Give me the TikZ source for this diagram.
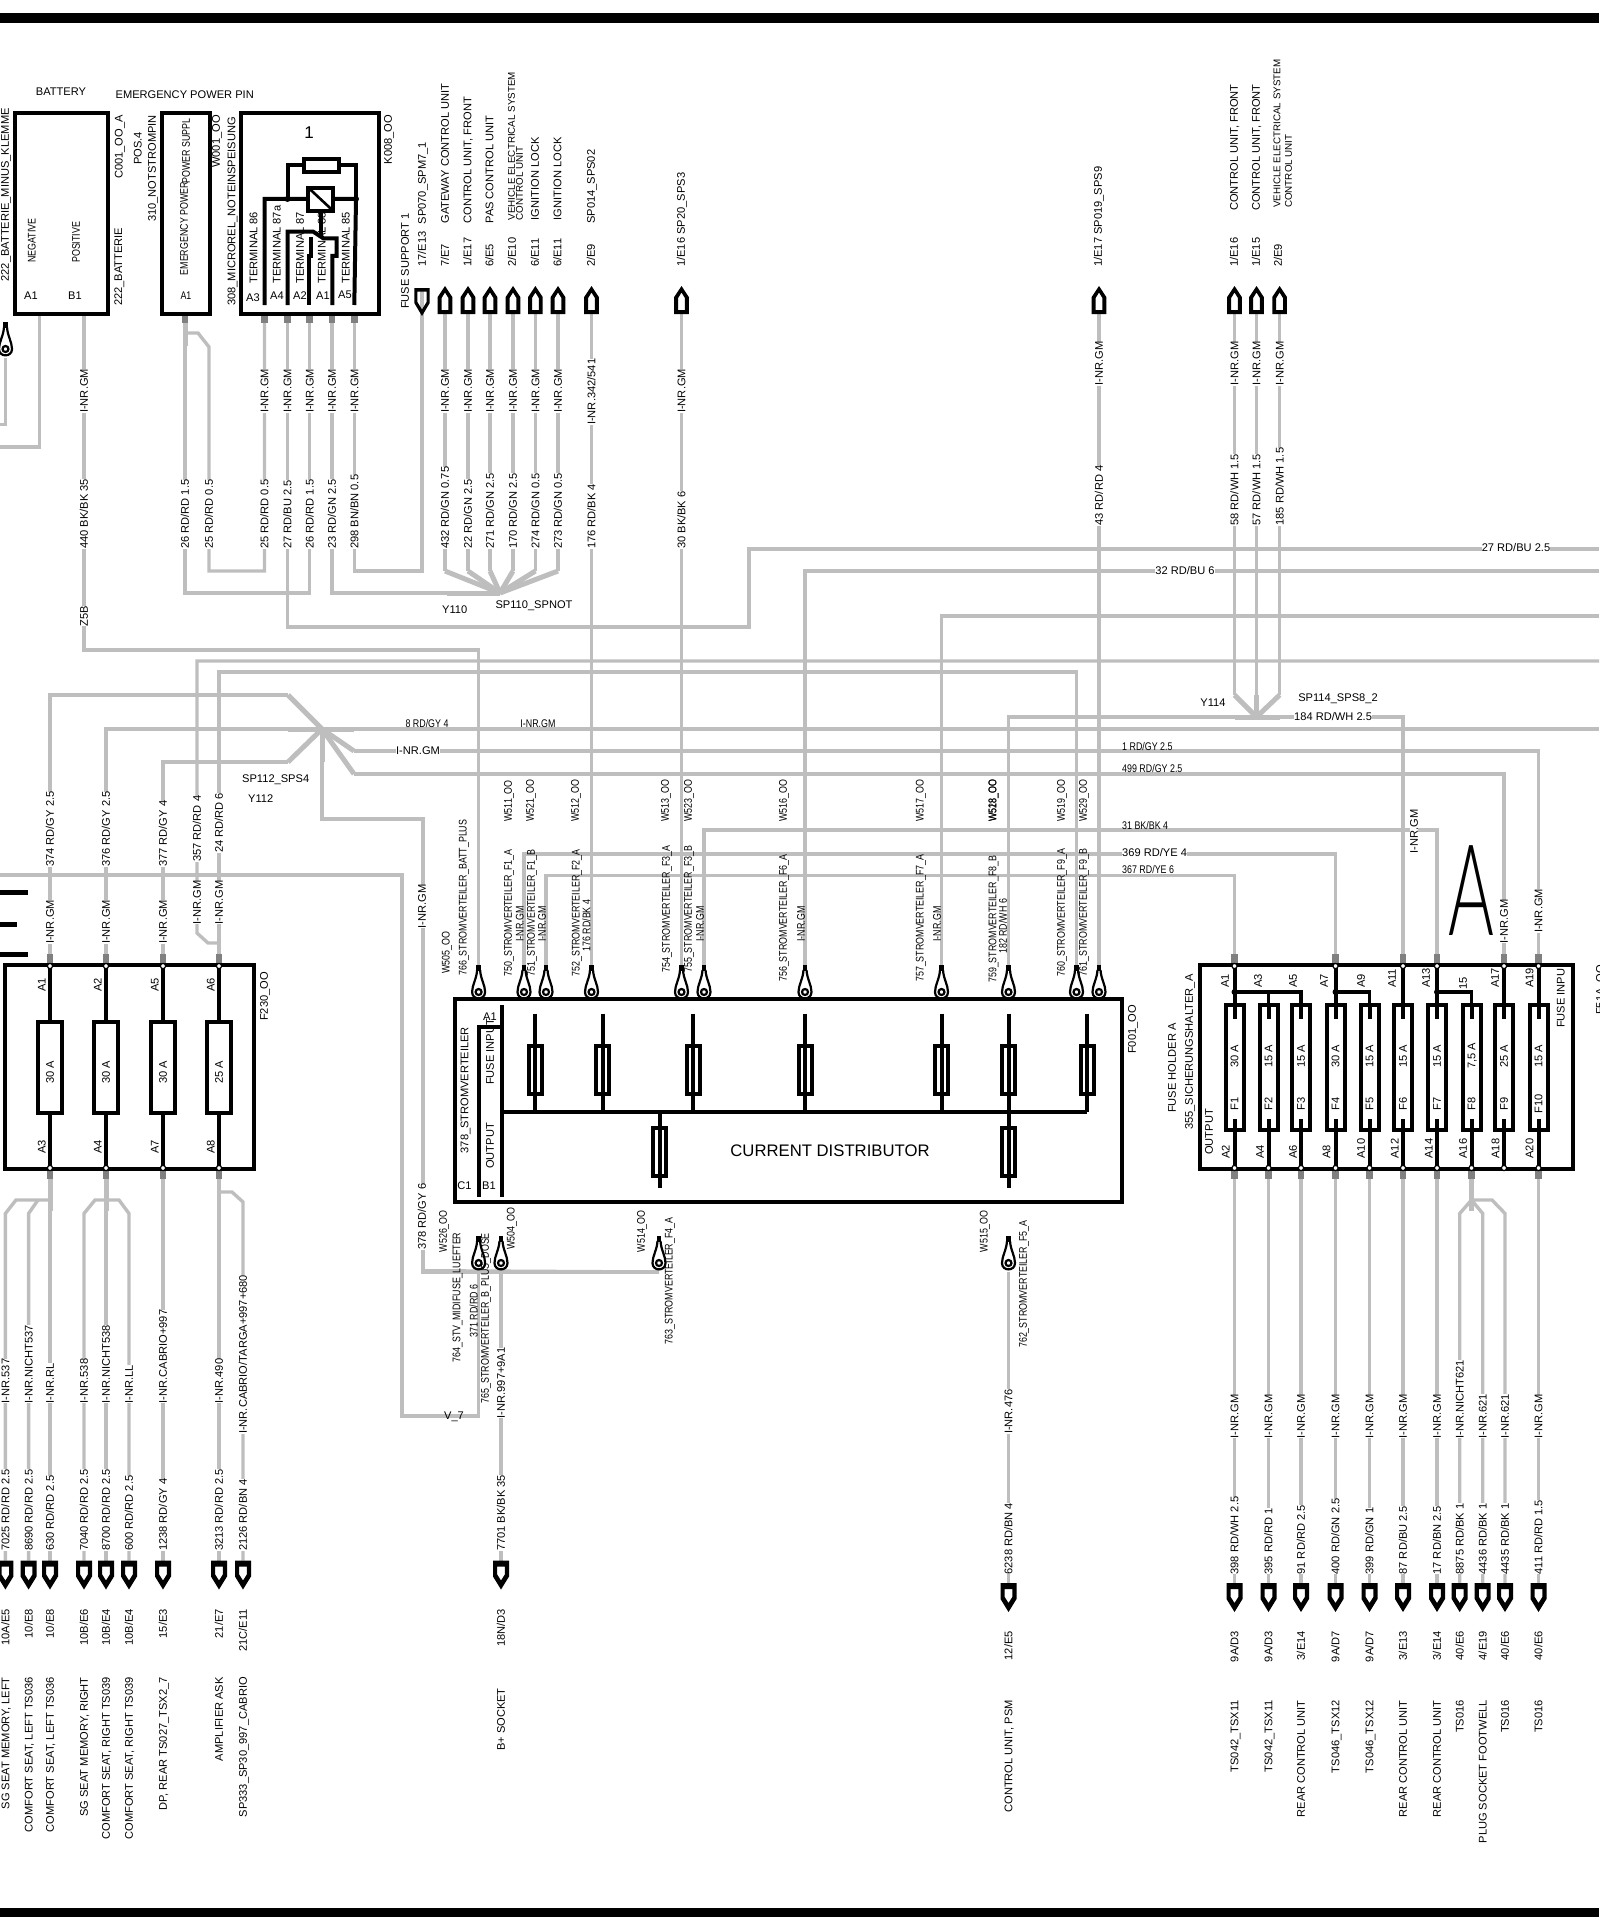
\documentclass[tikz,border=0pt]{standalone}
\usepackage{fontspec}
\setmainfont{Liberation Sans}
\newfontfamily\narrowfont[FakeStretch=0.8]{Liberation Sans}
\newfontfamily\slimfont[FakeStretch=0.55]{Lato Light}
\newcommand\stdtxt{\fontsize{11.1}{12}\selectfont}
\newcommand\smalltxt{\narrowfont\fontsize{11.1}{12}\selectfont}
\newcommand\thintxt{\fontsize{9.8}{10}\selectfont}
\catcode`\_=12
\tikzset{
  wire/.style={draw=wiregrey,line width=3.4pt,line join=miter},
  wirebold/.style={draw=wiregrey,line width=5pt},
  pinstub/.style={draw=pingrey,line width=6.6pt},
  frame/.style={draw=black,line width=4pt},
  blk/.style={draw=black,line width=4pt},
  vt/.style={rotate=90,anchor=west,inner sep=0pt,text height=7.9pt,text depth=0pt,font=\stdtxt},
  vte/.style={vt,anchor=east},
  vw/.style={vt,fill=white},
  vs/.style={vt,font=\smalltxt},
  ht/.style={inner sep=0pt,text height=7.9pt,text depth=0pt,font=\stdtxt},
  hs/.style={ht,font=\smalltxt},
  pics/conup/.style={code={\fill[even odd rule] (-7.3,0) -- (7.3,0) -- (7.3,-17) -- (0,-28) -- (-7.3,-17) -- cycle
    (-3.4,-4) -- (3.4,-4) -- (3.4,-16) -- (0,-21.5) -- (-3.4,-16) -- cycle;}},
  pics/condown/.style={code={\fill[even odd rule] (-8,0) -- (8,0) -- (8,16) -- (0,29) -- (-8,16) -- cycle
    (-3.8,6) -- (3.8,6) -- (3.8,14) -- (0,20) -- (-3.8,14) -- cycle;}},
  pics/consupport/.style={code={\fill[even odd rule] (-7.7,0) -- (7.7,0) -- (7.7,15) -- (0,28) -- (-7.7,15) -- cycle
    (-4.6,3.5) -- (4.6,3.5) -- (4.6,14) -- (0,21.5) -- (-4.6,14) -- cycle;}},
  pics/eyelet/.style={code={
    \fill (-2.2,0) rectangle (2.2,6);
    \draw[line width=2.2pt] (-1.5,5) .. controls (-2,14) and (-6.5,20) .. (-6.5,27)
      .. controls (-6.5,35.5) and (6.5,35.5) .. (6.5,27) .. controls (6.5,20) and (2,14) .. (1.5,5);
    \draw[line width=2.2pt,fill=white] (0,27) circle[radius=3];}},
}
\definecolor{wiregrey}{HTML}{BEBEBE}
\definecolor{pingrey}{HTML}{808080}
\begin{document}
\begin{tikzpicture}[x=1pt,y=-1pt]
  \useasboundingbox (0,0) rectangle (1599,1926);
  \fill (0,13.5) rectangle (1599,23);
  \fill (0,1907.7) rectangle (1599,1917);

  % pins, connectors, eyelets
  \foreach \n/\x in {ka3/264.5,ka4/287.5,ka2/309.6,ka1/332,ka5/354.3,wa1/185,ba1/39.5,bb1/84}
    \coordinate (\n) at (\x,313);
  \foreach \n/\x in {tg1/445,tg2/468,tg3/490,tg4/513,tg5/535.4,tg6/558,t176/591.5,t30/681.5,t43/1099,t58/1234.5,t57/1256.5,t185/1279.6}
    \coordinate (\n) at (\x,314);
  \coordinate (tc17) at (422,288);
  \foreach \n/\x in {e505/478.6,e511/524,e521/546,e512/591.5,e513/681.5,e523/704,e516/805,e517/941.5,e518/1008.5,e519/1076.5,e529/1099}
    \coordinate (\n) at (\x,965);
  \foreach \n/\x in {e526/478.6,e504/501,e514/659,e515/1008.5}{
    \coordinate (\n) at (\x,1236);
    \coordinate (\n b) at (\x,1272);
  }
  \coordinate (e0) at (5.5,322);
  \coordinate (e0b) at (5.5,358);
  \foreach \n/\x in {fa1/50,fa2/106,fa5/163,fa6/219}
    \coordinate (\n) at (\x,963);
  \foreach \n/\x in {fb3/50,fb4/106,fb7/163,fb8/219}
    \coordinate (\n) at (\x,1170);
  \foreach \n/\x in {ha1/1234.5,ha7/1335.5,ha11/1403,ha13/1437,ha17/1504,ha19/1538.5}
    \coordinate (\n) at (\x,963);
  \foreach \n/\x in {hb2/1234.5,hb4/1268.5,hb6/1301,hb8/1335.5,hb10/1369.5,hb12/1403,hb14/1437,hb16/1471.5,hb20/1538.5}
    \coordinate (\n) at (\x,1170);
  \foreach \n/\x in {c1/5.4,c2/28.6,c3/50,c4/84,c5/106,c6/129,c7/163,c8/219,c9/243,c10/501}
    \coordinate (\n) at (\x,1560.5);
  \foreach \n/\x in {r1/1234.5,r2/1268.5,r3/1301,r4/1335.5,r5/1369.5,r6/1403,r7/1437,r8/1459.7,r9/1482.7,r10/1505,r11/1538.5,r12/1008.5}
    \coordinate (\n) at (\x,1583);
  \coordinate (spl110) at (500,593);
  \coordinate (spl112) at (322,729);
  \coordinate (spl114) at (1256.5,717);
  \coordinate (lft1) at (0,447);
  \coordinate (lft2) at (0,424.5);
  \coordinate (lft3) at (0,875);
  \foreach \n/\y in {rt27/549,rt32/571,rt517/616,rt661/661,rt729/729}
    \coordinate (\n) at (1599,\y);

  % wires
  \draw[wire] (ba1) |- (lft1);
  \draw[wire] (e0b) |- (lft2);
  \draw[wire] (bb1) |- (478.6,650) -- (e505);
  \draw[wire] (wa1) |- (309.6,593) -- (ka2);
  \draw[wire] (185,333) -- (198,333) -- (209,347) |- (264.5,571) -- (ka3);
  \draw[wirebold] (wa1) -- (185,346);
  \draw[wire] (ka1) |- (447,593);
  \draw[wirebold] (447,593) -- (spl110);
  \draw[wire] (ka5) |- (422,571) -- (tc17);
  \draw[wire] (ka4) |- (749,627) |- (rt27);
  \foreach \c in {tg1,tg2,tg3,tg4,tg5,tg6}{
    \draw[wire] (\c) -- (\c |- 0,571);
    \draw[wirebold] (\c |- 0,571) -- (spl110);
  }
  \foreach \from/\to in {t176/e512,t30/e513,t43/e529}
    \draw[wire] (\from) -- (\to);
  \draw[wire] (e516) |- (rt32);
  \draw[wire] (e517) |- (rt517);
  \draw[wire] (fa6) |- (e519 |- 0,672) -- (e519);
  \draw[wire] (219,943) -- (208,943) -- (197,933) |- (rt661);
  \draw[wire] (fa1) |- (288,695);
  \draw[wirebold] (288,695) -- (spl112);
  \draw[wire] (fa2) |- (288,729);
  \draw[wirebold] (288,729) -- (354,729);
  \draw[wire] (354,729) -- (rt729);
  \draw[wire] (fa5) |- (288,762);
  \draw[wirebold] (288,762) -- (spl112);
  \draw[wirebold] (spl112) -- (322,762);
  \draw[wire] (322,762) |- (423,819) |- (e514b);
  \draw[wirebold] (spl112) -- (354,751);
  \draw[wire] (354,751) -| (ha19);
  \draw[wirebold] (spl112) -- (354,774);
  \draw[wire] (354,774) -| (ha17);
  \draw[wire] (t58) -- (1234.5,695);
  \draw[wire] (t185) -- (1279.6,695);
  \draw[wire] (t57) -- (1256.5,695);
  \draw[wirebold] (1234.5,695) -- (spl114);
  \draw[wirebold] (1279.6,695) -- (spl114);
  \draw[wirebold] (1256.5,695) -- (spl114);
  \draw[wire] (e518) |- (1234.5,717);
  \draw[wirebold] (1234.5,717) -- (1279.6,717);
  \draw[wire] (1279.6,717) -| (ha11);
  \draw[wire] (e523) |- (1437,830) -- (ha13);
  \draw[wire] (e511) |- (1335.5,854) -- (ha7);
  \draw[wire] (e521) |- (1234.5,875.5) -- (ha1);
  \draw[wire] (e526b) |- (402,1416) |- (lft3);
  \draw[wire] (e504b) -- (c10);
  \draw[wire] (e515b) -- (r12);
  \draw[wire] (423,1270.7) -- (e514b);
  \draw[wirebold] (fb3) -- (50,1211);
  \draw[wirebold] (fb4) -- (106,1211);
  \draw[wirebold] (hb16) -- (1471.5,1211);
  \foreach \from/\to in {fb3/c3,fb4/c5,fb7/c7,fb8/c8,hb2/r1,hb4/r2,hb6/r3,hb8/r4,hb10/r5,hb12/r6,hb14/r7,hb20/r11}
    \draw[wire] (\from) -- (\to);
  \draw[wire] (c1) -- (5.4,1213.5) -- (16,1200) -- (50,1200);
  \draw[wire] (c2) -- (28.6,1213.5) -- (38,1200);
  \draw[wire] (c4) -- (84,1213.5) -- (95,1200) -- (119,1200) -- (129,1213.5) -- (c6);
  \draw[wire] (219,1192) -- (232,1192) -- (243,1202) -- (c9);
  \draw[wire] (r8) -- (1459.7,1213.5) -- (1471.5,1200) -- (1482.7,1213.5) -- (r9);
  \draw[wire] (1471.5,1200) -- (1492,1200) -- (1505,1213.5) -- (r10);

  % pin stubs
  \foreach \p in {fa1,fa2,fa5,fa6,ha1,ha7,ha11,ha13,ha17,ha19}
    \draw[pinstub] (\p) -- ++(0,-9);
  \foreach \p in {fb3,fb4,fb7,fb8,hb2,hb4,hb6,hb8,hb10,hb12,hb14,hb16,hb20}
    \draw[pinstub] (\p) -- ++(0,9);
  \foreach \p in {ka3,ka4,ka2,ka1,ka5,wa1}
    \draw[pinstub] (\p) -- ++(0,10);

  % connectors
  \foreach \c in {tg1,tg2,tg3,tg4,tg5,tg6,t176,t30,t43,t58,t57,t185}
    \pic at (\c) {conup};
  \pic at (tc17) {consupport};
  \foreach \c in {c1,c2,c3,c4,c5,c6,c7,c8,c9,c10,r1,r2,r3,r4,r5,r6,r7,r8,r9,r10,r11,r12}
    \pic at (\c) {condown};
  \foreach \c in {e505,e511,e521,e512,e513,e523,e516,e517,e518,e519,e529,e526,e504,e514,e515,e0}
    \pic at (\c) {eyelet};

  % battery, emergency pin, relay
  \draw[frame] (15,113.5) rectangle (107.5,313.5);
  \draw[frame] (162,113.5) rectangle (209.5,313.5);
  \node[vs] (wa1t) at (184,275.5) {EMERGENCY POWER};
  \node[vs] (wa1u) at (186,184) {POWER SUPPL};
  \draw[frame] (241,113.5) rectangle (379,313.5);
  \foreach \x/\t [count=\i] in {253.5/TERMINAL 86,276.7/TERMINAL 87a,300/TERMINAL 87,321.7/TERMINAL 88,345.7/TERMINAL 85}
    \node[vt] (term\i) at (\x,283.7) {\t};
  \draw[blk] (264.5,305) |- (356,199) -- (354.3,305);
  \draw[blk] (287.5,199) |- (356,165) -- (356,199);
  \draw[blk,fill=white] (303.5,159.3) rectangle (339,171.7);
  \draw[blk,fill=white] (308.3,187.7) rectangle (333.3,211);
  \draw[line width=2.6pt] (308.3,187.7) -- (333.3,211);
  \draw[blk] (320.7,211) -- (320.7,238);
  \draw[blk] (287.5,305) |- (313.3,231.7) -- (323.3,238.3) -- (336.7,238.3) -- (336.7,256) -- (332.3,256) -- (332.3,305);
  \draw[blk] (311,237) -- (311,256) -- (309.3,256) -- (309.3,305);
  \fill (287.5,199) circle[radius=3];
  \fill (356,199) circle[radius=3];

  % fuse carrier F230
  \draw[frame] (5,965) rectangle (254,1168.5);
  \foreach \x/\a/\b/\t [count=\i] in {50/A1/A3/30 A,106/A2/A4/30 A,163/A5/A7/30 A,219/A6/A8/25 A}{
    \draw[blk] (\x,965) -- (\x,1168.5);
    \draw[blk,fill=white] (\x-12,1022) rectangle (\x+12,1113);
    \node[vt,anchor=center] (ft\i) at (\x,1072) {\t};
    \node[vt] (fp\i) at (\x-8.4,992) {\a};
    \node[vt] (fq\i) at (\x-8.4,1154) {\b};
    \draw[line width=1.2pt,fill=white] (\x,966) circle[radius=2.6];
    \draw[line width=1.2pt,fill=white] (\x,1168) circle[radius=2.6];
  }
  \fill (0,890) rectangle (28,895);
  \fill (0,921.5) rectangle (17,926.5);
  \fill (0,951.5) rectangle (28,956.5);

  % current distributor
  \draw[frame] (455,999) rectangle (1121.5,1202);
  \draw[blk] (501.5,1005) -- (501.5,1197);
  \draw[blk] (478.5,1197) |- (501.5,1027);
  \draw[blk] (501.5,1111.5) -- (1087,1111.5);
  \foreach \x in {535,602.5,693,805,941.5,1008.5,1087}{
    \draw[blk,fill=white] (\x-6.5,1045.7) rectangle (\x+6.5,1094);
    \draw[blk] (\x,1013.5) -- (\x,1111.5);
  }
  \foreach \x in {659.5,1008.5}{
    \draw[blk,fill=white] (\x-6.5,1127.5) rectangle (\x+6.5,1176);
    \draw[blk] (\x,1111.5) -- (\x,1188);
  }
  \node[ht,font=\fontsize{16.7}{18}\selectfont,text height=12pt] (dist) at (830,1150) {CURRENT DISTRIBUTOR};

  % fuse holder A
  \draw[frame] (1199.7,964.5) rectangle (1573,1168.5);
  \foreach \x/\t/\f [count=\i] in {1234.5/30 A/F1,1268.5/15 A/F2,1301/15 A/F3,1335.5/30 A/F4,1369.5/15 A/F5,1403/15 A/F6,1437/15 A/F7,1471.5/{7,5 A}/F8,1504/25 A/F9,1538.5/15 A/F10}{
    \draw[blk,fill=white] (\x-9,1005) rectangle (\x+9,1130);
    \draw[blk] (\x,1005) -- (\x,1018.6);
    \draw[blk] (\x,1119) -- (\x,1168);
    \node[vt,anchor=center] (hv\i) at (\x,1056) {\t};
    \node[vt,anchor=center] (hf\i) at (\x,1104) {\f};
    \draw[line width=1.2pt,fill=white] (\x,1168) circle[radius=2.6];
  }
  \foreach \x/\a [count=\i] in {1225/A1,1258/A3,1293/A5,1324/A7,1361/A9,1392/A11,1426/A13,1495/A17,1529.5/A19}
    \node[vt] (ht\i) at (\x,988) {\a};
  \node[vt] (ht15) at (1463,990) {15};
  \foreach \x/\a [count=\i] in {1225.7/A2,1260/A4,1293/A6,1326.5/A8,1361/A10,1394.6/A12,1428.6/A14,1463/A16,1495.5/A18,1529.5/A20}
    \node[vt] (hu\i) at (\x,1158.6) {\a};
  \foreach \x in {1234.5,1335.5,1403,1437,1504,1538.5}{
    \draw[blk] (\x,966) -- (\x,1005);
    \draw[line width=1.2pt,fill=white] (\x,966) circle[radius=2.6];
  }
  \foreach \a/\b in {1234.5/1301,1335.5/1369.5,1437/1471.5}{
    \draw[line width=3.4pt] (\a,992) -| (\b,1018);
    \fill (\a,992) circle[radius=3];
  }
  \draw[line width=3.4pt] (1268.5,992) -- (1268.5,1018);
  \node[vt] (hout) at (1209,1155) {OUTPUT};
  \node[vt] (hin) at (1560.7,1028) {FUSE INPU};
  \node[vt] (hsh) at (1189,1130) {355_SICHERUNGSHALTER_A};
  \node[vt] (hfh) at (1172,1113) {FUSE HOLDER A};
  \node[vt] (hid) at (1600,1015) {F51A_OO};
  \node[inner sep=0pt,anchor=base,font=\slimfont\fontsize{127}{127}\selectfont] (bigA) at (1471,935) {A};

  % texts at the top
  \node[vt] (lk1) at (5,281.6) {222_BATTERIE_MINUS_KLEMME};
  \node[ht] (lk2) at (61,92) {BATTERY};
  \node[ht] (lk3) at (184.7,95) {EMERGENCY POWER PIN};
  \node[vt] (lk4) at (118.6,179) {C001_OO_A};
  \node[vt] (lk5) at (118.2,306) {222_BATTERIE};
  \node[vt] (lk6) at (137.6,165) {POS.4};
  \node[vt] (lk7) at (152,222) {310_NOTSTROMPIN};
  \node[vt] (lk8) at (216,168) {W001_OO};
  \node[vt] (lk9) at (231.3,306) {308_MICROREL_NOTEINSPEISUNG};
  \node[vt] (lk10) at (388,164.5) {K008_OO};
  \node[vt] (lk11) at (405,309) {FUSE SUPPORT 1};
  \node[vs] (lk12) at (31.6,263) {NEGATIVE};
  \node[vs] (lk13) at (76,263) {POSITIVE};
  \node[ht] (lk14) at (31,295.5) {A1};
  \node[ht] (lk15) at (75,295.5) {B1};
  \node[hs] (lk16) at (186,295.5) {A1};
  \node[ht,font=\fontsize{17}{18}\selectfont] (lk17) at (309,134.7) {1};
  \foreach \x/\y/\t [count=\i] in {253/298/A3,277/296/A4,300/296/A2,323/296/A1,345/295/A5}
    \node[ht] (ka\i t) at (\x,\y) {\t};
  \foreach \x/\t [count=\i] in {422/{17/E13},445/{7/E7},467.5/{1/E17},489.5/{6/E5},512/{2/E10},535/{6/E11},557.5/{6/E11},591/{2/E9},681/{1/E16},1098/{1/E17},1234/{1/E16},1256/{1/E15},1278/{2/E9}}
    \node[vt] (ref\i) at (\x,267) {\t};
  \foreach \x/\y/\t [count=\i] in {422/224.5/SP070_SPM7_1,445/223.7/GATEWAY CONTROL UNIT,467.5/223.7/{CONTROL UNIT, FRONT},489.5/223.7/PAS CONTROL UNIT,535/220.4/IGNITION LOCK,557.5/220.4/IGNITION LOCK,591/224/SP014_SPS02,681/234.7/SP20_SPS3,1098/234.7/SP019_SPS9,1234/211/{CONTROL UNIT, FRONT},1256/211/{CONTROL UNIT, FRONT}}
    \node[vt] (dst\i) at (\x,\y) {\t};
  \foreach \x/\y/\t [count=\i] in {511/220.4/VEHICLE ELECTRICAL SYSTEM,518.8/220.4/CONTROL UNIT,1276.4/208/VEHICLE ELECTRICAL SYSTEM,1288/208/CONTROL UNIT}
    \node[vt,font=\thintxt] (veh\i) at (\x,\y) {\t};

  % wire labels, upper part
  \foreach \x/\y [count=\i] in {84/413,264.5/413,287.5/413,309.6/413,332/413,354.3/413,445/413,468/413,490/413,513/413,535.4/413,558/413,681.5/413,1099/385.7,1234.5/385.7,1256.5/385.7,1279.6/385.7,50/944,106/944,163/944,197/924.6,219/924.6,422/928.6,1504/943.6,1538.5/933}
    \node[vw] (gm\i) at (\x,\y) {I-NR.GM};
  \node[vw] (gm342) at (591.5,425) {I-NR.342/541};
  \foreach \x/\t [count=\i] in {84/{440 BK/BK 35},185/{26 RD/RD 1.5},209/{25 RD/RD 0.5},264.5/{25 RD/RD 0.5},287.5/{27 RD/BU 2.5},309.6/{26 RD/RD 1.5},332/{23 RD/GN 2.5},354.3/{298 BN/BN 0.5},445/{432 RD/GN 0.75},468/{22 RD/GN 2.5},490/{271 RD/GN 2.5},513/{170 RD/GN 2.5},535.4/{274 RD/GN 0.5},558/{273 RD/GN 0.5},591.5/{176 RD/BK 4},681.5/{30 BK/BK 6}}
    \node[vw] (wn\i) at (\x,549) {\t};
  \foreach \x/\t [count=\i] in {1099/{43 RD/RD 4},1234.5/{58 RD/WH 1.5},1256.5/{57 RD/WH 1.5},1279.6/{185 RD/WH 1.5}}
    \node[vw] (wm\i) at (\x,525.7) {\t};
  \node[vw] (zsb) at (84,626.5) {Z5B};
  \node[ht,fill=white] (h27) at (1516,548) {27 RD/BU 2.5};
  \node[ht,fill=white] (h32) at (1185,571) {32 RD/BU 6};
  \node[ht] (y110) at (454.7,610) {Y110};
  \node[ht] (sp110) at (534,605) {SP110_SPNOT};
  \foreach \x/\y/\t [count=\i] in {50/867/{374 RD/GY 2.5},106/867/{376 RD/GY 2.5},163/867/{377 RD/GY 4},197/862/{357 RD/RD 4},219/853/{24 RD/RD 6}}
    \node[vw] (wk\i) at (\x,\y) {\t};
  \node[hs,fill=white] (h8) at (427,723.5) {8 RD/GY 4};
  \node[hs,fill=white] (h8b) at (538,723.5) {I-NR.GM};
  \node[ht,fill=white] (hgm) at (418,751) {I-NR.GM};
  \node[ht] (sp112) at (275.7,779) {SP112_SPS4};
  \node[ht] (y112) at (260.7,799) {Y112};
  \node[vt] (f230) at (264,1021) {F230_OO};
  \node[ht] (y114) at (1213,703) {Y114};
  \node[ht] (sp114) at (1338,698) {SP114_SPS8_2};
  \node[ht,anchor=west,fill=white] (h184) at (1294,717) {184 RD/WH 2.5};
  \node[hs,anchor=west] (h1) at (1122,746.4) {1 RD/GY 2.5};
  \node[hs,anchor=west] (h499) at (1122,769) {499 RD/GY 2.5};
  \node[hs,anchor=west] (h31) at (1122,825.7) {31 BK/BK 4};
  \node[ht,anchor=west,fill=white] (h369) at (1122,853) {369 RD/YE 4};
  \node[hs,anchor=west,fill=white] (h367) at (1122,870) {367 RD/YE 6};
  \node[vw] (gm26) at (1414,853.6) {I-NR.GM};

  % texts round the distributor
  \node[vs] (w505) at (445.7,974) {W505_OO};
  \node[vs] (s766) at (462.7,976) {766_STROMVERTEILER_BATT_PLUS};
  \foreach \x/\t [count=\i] in {508/W511_OO,530/W521_OO,575/W512_OO,665/W513_OO,688/W523_OO,783/W516_OO,919.6/W517_OO,992.5/W518_OO,992.5/W528_OO,1061/W519_OO,1083/W529_OO}
    \node[vs] (wid\i) at (\x,821.7) {\t};
  \foreach \x/\y/\t [count=\i] in {508/976.7/750_STROMVERTEILER_F1_A,531/976.7/751_STROMVERTEILER_F1_B,575.7/976.7/752_STROMVERTEILER_F2_A,666/973/754_STROMVERTEILER_F3_A,688/973/755_STROMVERTEILER_F3_B,783/982/756_STROMVERTEILER_F6_A,919.6/982/757_STROMVERTEILER_F7_A,992.5/983/759_STROMVERTEILER_F8_B,1061/976.4/760_STROMVERTEILER_F9_A,1083/976.4/761_STROMVERTEILER_F9_B}
    \node[vs] (str\i) at (\x,\y) {\t};
  \foreach \x/\n in {519.6/1,541.8/2,700/3,801/4,936.8/5}
    \node[vs] (gs\n) at (\x,941.7) {I-NR.GM};
  \node[vs] (t176b) at (586.4,951.7) {176 RD/BK 4};
  \node[vs] (t182) at (1003,954) {182 RD/WH 6};
  \node[vt] (s378) at (464.5,1153.5) {378_STROMVERTEILER};
  \node[ht] (lc1) at (464.5,1186) {C1};
  \node[ht] (lb1) at (489,1186) {B1};
  \node[ht] (la1) at (490,1017) {A1};
  \node[vt] (lin) at (490,1085) {FUSE INPUT};
  \node[vt] (lout) at (490,1169) {OUTPUT};
  \node[vt] (f001) at (1132,1054) {F001_OO};
  \node[vw] (t378) at (422,1250) {378 RD/GY 6};
  \node[ht] (v7) at (454,1416) {V_7};
  \foreach \x/\y/\t [count=\i] in {443/1252.4/W526_OO,510.7/1250/W504_OO,641/1252.4/W514_OO,983.7/1252.4/W515_OO,456.4/1362.6/764_STV_MIDIFUSE_LUEFTER,473.6/1337.7/{371 RD/RD 6},485/1403.4/765_STROMVERTEILER_B_PLUS_DOSE,668.7/1344.8/763_STROMVERTEILER_F4_A,1023/1348/762_STROMVERTEILER_F5_A}
    \node[vs] (low\i) at (\x,\y) {\t};

  % wire labels, lower part
  \foreach \x/\t [count=\i] in {5.4/I-NR.537,28.6/I-NR.NICHT537,50/I-NR.RL,84/I-NR.538,106/I-NR.NICHT538,129/I-NR.LL,163/I-NR.CABRIO+997,219/I-NR.490}
    \node[vw] (inr\i) at (\x,1403.4) {\t};
  \node[vw] (inr9) at (243,1434) {I-NR.CABRIO/TARGA+997+680};
  \node[vw] (inr10) at (501,1418.4) {I-NR.997+9A1};
  \node[vw] (inr11) at (1008.5,1434) {I-NR.476};
  \foreach \x/\t [count=\i] in {5.4/{7025 RD/RD 2.5},28.6/{8690 RD/RD 2.5},50/{630 RD/RD 2.5},84/{7040 RD/RD 2.5},106/{8700 RD/RD 2.5},129/{600 RD/RD 2.5},163/{1238 RD/GY 4},219/{3213 RD/RD 2.5},243/{2126 RD/BN 4},501/{7701 BK/BK 35}}
    \node[vw] (num\i) at (\x,1551) {\t};
  \foreach \x/\t [count=\i] in {5.4/{10A/E5},28.6/{10/E8},50/{10/E8},84/{10B/E6},106/{10B/E4},129/{10B/E4},163/{15/E3},219/{21/E7},243/{21C/E11},501/{18N/D3}}
    \node[vte] (rfa\i) at (\x,1609) {\t};
  \foreach \x/\t [count=\i] in {5.4/{SG SEAT MEMORY, LEFT},28.6/{COMFORT SEAT, LEFT TS036},50/{COMFORT SEAT, LEFT TS036},84/{SG SEAT MEMORY, RIGHT},106/{COMFORT SEAT, RIGHT TS039},129/{COMFORT SEAT, RIGHT TS039},163/{DP, REAR TS027_TSX2_7},219/{AMPLIFIER ASK},243/SP333_SP30_997_CABRIO}
    \node[vte] (nma\i) at (\x,1677) {\t};
  \node[vte] (nma10) at (501,1688) {B+ SOCKET};
  \node[vw] (num11) at (1008.5,1574.6) {6238 RD/BN 4};
  \node[vte] (rfa11) at (1008.5,1631) {12/E5};
  \node[vte] (nma11) at (1008.5,1700) {CONTROL UNIT, PSM};
  \foreach \x/\g/\n/\r/\d [count=\i] in {1234.5/I-NR.GM/{398 RD/WH 2.5}/{9A/D3}/TS042_TSX11,1268.5/I-NR.GM/{395 RD/RD 1}/{9A/D3}/TS042_TSX11,1301/I-NR.GM/{91 RD/RD 2.5}/{3/E14}/REAR CONTROL UNIT,1335.5/I-NR.GM/{400 RD/GN 2.5}/{9A/D7}/TS046_TSX12,1369.5/I-NR.GM/{399 RD/GN 1}/{9A/D7}/TS046_TSX12,1403/I-NR.GM/{87 RD/BU 2.5}/{3/E13}/REAR CONTROL UNIT,1437/I-NR.GM/{17 RD/BN 2.5}/{3/E14}/REAR CONTROL UNIT,1459.7/I-NR.NICHT621/{8875 RD/BK 1}/{40/E6}/TS016,1482.7/I-NR.621/{4436 RD/BK 1}/{4/E19}/PLUG SOCKET FOOTWELL,1505/I-NR.621/{4435 RD/BK 1}/{40/E6}/TS016,1538.5/I-NR.GM/{411 RD/RD 1.5}/{40/E6}/TS016}{
    \node[vw] (rg\i) at (\x,1438.6) {\g};
    \node[vw] (rn\i) at (\x,1574.6) {\n};
    \node[vte] (rr\i) at (\x,1631) {\r};
    \node[vte] (rd\i) at (\x,1700) {\d};
  }
\end{tikzpicture}
\end{document}
